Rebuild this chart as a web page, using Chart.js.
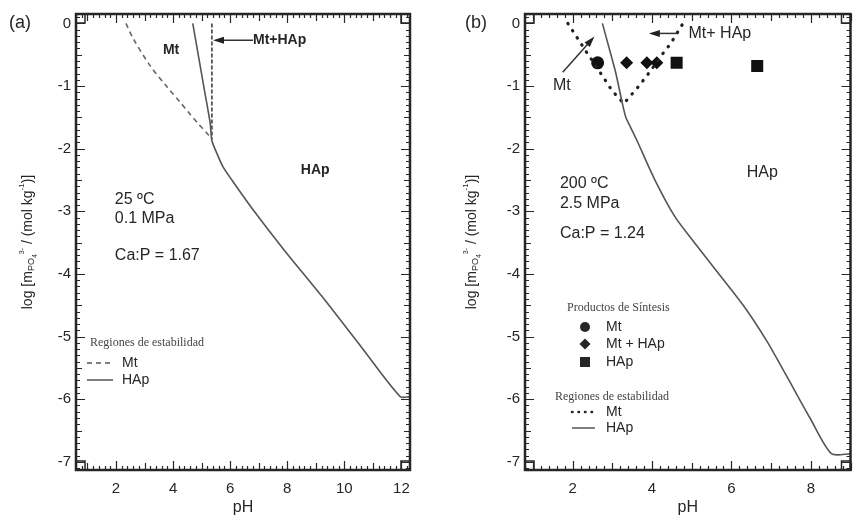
<!DOCTYPE html>
<html>
<head>
<meta charset="utf-8">
<script src="https://cdn.jsdelivr.net/npm/chart.js@4.4.1/dist/chart.umd.min.js"></script>
<style>
  body { margin: 0; background: #fff; }
  #wrap { position: relative; width: 859px; height: 519px; }
  canvas { position: absolute; top: 0; }
</style>
</head>
<body>
<div id="wrap">
  <canvas id="chartA" width="430" height="519" style="left:0"></canvas>
  <canvas id="chartB" width="429" height="519" style="left:430px"></canvas>
</div>
<script>
// ---- panel (a): 25 ºC, 0.1 MPa, Ca:P = 1.67 ----
const phHApA  = [4.69, 5.10, 5.30, 5.36, 5.53, 5.76, 6.06, 6.81, 7.86, 9.2, 10.6, 11.96, 12.3];
const logHApA = [0, -1.07, -1.59, -1.87, -2.07, -2.30, -2.50, -2.98, -3.60, -4.35, -5.17, -5.96, -5.96];
const phMtA   = [2.35, 2.6, 3.19, 3.8, 4.25, 4.54, 4.88, 5.18, 5.32];
const logMtA  = [0, -0.24, -0.67, -1.02, -1.26, -1.42, -1.6, -1.75, -1.82];
const phMtEdgeA  = [5.36, 5.36];
const logMtEdgeA = [0, -1.85];

// ---- panel (b): 200 ºC, 2.5 MPa, Ca:P = 1.24 ----
const phHApB  = [2.75, 2.9, 3.09, 3.25, 3.34, 3.46, 3.62, 4.08, 4.58, 5.08, 5.66, 6.32, 6.9, 7.4, 7.98, 8.52, 9.0];
const logHApB = [0, -0.35, -0.8, -1.27, -1.5, -1.66, -1.87, -2.51, -3.09, -3.51, -3.98, -4.52, -5.08, -5.64, -6.3, -6.87, -6.87];
const phMtB   = [1.88, 2.34, 2.67, 3.0, 3.29, 3.67, 3.96, 4.25, 4.46, 4.78];
const logMtB  = [0, -0.45, -0.76, -1.08, -1.28, -1.0, -0.76, -0.5, -0.33, 0];
// productos de síntesis
const phSynMt   = [2.63];
const logSynMt  = [-0.63];
const phSynMix  = [3.36, 3.87, 4.12];
const logSynMix = [-0.63, -0.63, -0.63];
const phSynHAp  = [4.62, 6.65];
const logSynHAp = [-0.63, -0.68];

// tick labels
const yTickVals = [0, -1, -2, -3, -4, -5, -6, -7];
const xTicksA = [2, 4, 6, 8, 10, 12];
const xTicksB = [2, 4, 6, 8];

const FONT = 'Liberation Sans, Arial, sans-serif';
const SERIF = 'Liberation Serif, Times New Roman, serif';
const INK = '#262626';
const LINE = '#555';

const pts = (xs, ys) => xs.map((v, i) => ({ x: v, y: ys[i] }));

function arrow(ctx, x0, y0, x1, y1) {
  const a = Math.atan2(y1 - y0, x1 - x0), c = Math.cos(a), s = Math.sin(a);
  ctx.beginPath();
  ctx.moveTo(x0, y0);
  ctx.lineTo(x1 - 6 * c, y1 - 6 * s);
  ctx.stroke();
  ctx.beginPath();
  ctx.moveTo(x1, y1);
  ctx.lineTo(x1 - 11 * c + 3.5 * s, y1 - 11 * s - 3.5 * c);
  ctx.lineTo(x1 - 11 * c - 3.5 * s, y1 - 11 * s + 3.5 * c);
  ctx.closePath();
  ctx.fill();
}

function yTitle(ctx, cx, cy) {
  const parts = [
    { t: 'log [m', f: 14, dy: 0 },
    { t: 'PO', f: 9, dy: 4 },
    { t: '4', f: 7, dy: 7 },
    { t: '3-', f: 7, dy: -6 },
    { t: ' / (mol kg', f: 14, dy: 0 },
    { t: '-1', f: 8, dy: -6 },
    { t: ')]', f: 14, dy: 0 }
  ];
  let w = 0;
  parts.forEach(p => { ctx.font = p.f + 'px ' + FONT; p.w = ctx.measureText(p.t).width; w += p.w; });
  ctx.save();
  ctx.translate(cx, cy);
  ctx.rotate(-Math.PI / 2);
  ctx.fillStyle = INK;
  ctx.textBaseline = 'middle';
  ctx.textAlign = 'left';
  let x = -w / 2;
  parts.forEach(p => { ctx.font = p.f + 'px ' + FONT; ctx.fillText(p.t, x, p.dy); x += p.w; });
  ctx.restore();
}

function marker(ctx, kind, x, y, r) {
  ctx.beginPath();
  if (kind === 'circle') ctx.arc(x, y, r, 0, Math.PI * 2);
  else if (kind === 'diamond') { ctx.moveTo(x, y - r); ctx.lineTo(x + r, y); ctx.lineTo(x, y + r); ctx.lineTo(x - r, y); ctx.closePath(); }
  else ctx.rect(x - r, y - r, 2 * r, 2 * r);
  ctx.fill();
}

// frame, inward ticks on all sides, in-plot labels, arrows, legend
function makeDecor(cfg) {
  return {
    id: 'decor',
    afterDatasetsDraw(chart) {
      const { ctx, chartArea: a, scales: { x, y } } = chart;
      ctx.save();
      ctx.strokeStyle = INK;
      ctx.lineWidth = 1.2;
      // x ticks: minor 0.2, mid 1, major 2
      for (let k = Math.ceil(x.min / 0.2 - 1e-6); k * 0.2 <= x.max + 1e-6; k++) {
        const px = Math.round(x.getPixelForValue(k * 0.2)) + 0.5;
        const len = k % 10 === 0 ? 9 : (k % 5 === 0 ? 7 : 4);
        ctx.beginPath();
        ctx.moveTo(px, a.bottom); ctx.lineTo(px, a.bottom - len);
        ctx.moveTo(px, a.top); ctx.lineTo(px, a.top + len);
        ctx.stroke();
      }
      // y ticks: minor 0.1, mid 0.5, major 1
      for (let k = Math.ceil(y.min / 0.1 - 1e-6); k * 0.1 <= y.max + 1e-6; k++) {
        const py = Math.round(y.getPixelForValue(k * 0.1)) + 0.5;
        const len = k % 10 === 0 ? 9 : (k % 5 === 0 ? 6 : 4);
        ctx.beginPath();
        ctx.moveTo(a.left, py); ctx.lineTo(a.left + len, py);
        ctx.moveTo(a.right, py); ctx.lineTo(a.right - len, py);
        ctx.stroke();
      }
      // corner boxes
      ctx.lineWidth = 1.5;
      const b = 9;
      ctx.strokeRect(a.left, a.top, b, b);
      ctx.strokeRect(a.right - b, a.top, b, b);
      ctx.strokeRect(a.left, a.bottom - b, b, b);
      ctx.strokeRect(a.right - b, a.bottom - b, b, b);
      // frame
      ctx.lineWidth = 2.5;
      ctx.strokeRect(a.left, a.top, a.right - a.left, a.bottom - a.top);

      // arrows
      ctx.strokeStyle = '#333';
      ctx.fillStyle = '#222';
      ctx.lineWidth = 1.5;
      cfg.arrows.forEach(r => arrow(ctx,
        x.getPixelForValue(r.from[0]), y.getPixelForValue(r.from[1]),
        x.getPixelForValue(r.to[0]), y.getPixelForValue(r.to[1])));

      // texts inside the plot
      ctx.fillStyle = INK;
      ctx.textBaseline = 'middle';
      cfg.texts.forEach(t => {
        ctx.font = (t.bold ? 'bold ' : '') + t.size + 'px ' + FONT;
        ctx.textAlign = t.align || 'left';
        ctx.fillText(t.text, x.getPixelForValue(t.x), y.getPixelForValue(t.y));
      });

      // legend
      const L = cfg.legend;
      ctx.textAlign = 'left';
      L.heads.forEach(h => {
        ctx.font = '12px ' + SERIF;
        ctx.fillStyle = '#444';
        ctx.fillText(h.text, h.x, h.y);
      });
      ctx.fillStyle = INK;
      L.marks.forEach(m => {
        marker(ctx, m.kind, m.x, m.y, m.r);
        ctx.font = '14px ' + FONT;
        ctx.fillText(m.text, L.textX, m.y);
      });
      L.lines.forEach(l => {
        ctx.save();
        ctx.strokeStyle = l.color;
        ctx.lineWidth = l.width;
        ctx.lineCap = l.cap || 'butt';
        ctx.setLineDash(l.dash);
        ctx.beginPath(); ctx.moveTo(l.x0, l.y); ctx.lineTo(l.x1, l.y); ctx.stroke();
        ctx.restore();
        ctx.font = '14px ' + FONT;
        ctx.fillText(l.text, L.textX, l.y);
      });

      // panel label + y title
      ctx.font = '18px ' + FONT;
      ctx.fillText(cfg.panel.text, cfg.panel.x, cfg.panel.y);
      yTitle(ctx, cfg.yTitle.x, cfg.yTitle.y);
      ctx.restore();
    }
  };
}

function scales(xmin, xmax, xticks, yWidth) {
  return {
    x: {
      type: 'linear', min: xmin, max: xmax,
      afterBuildTicks: s => { s.ticks = xticks.map(v => ({ value: v })); },
      afterFit: s => { s.height = 49; },
      grid: { display: false, drawTicks: false, tickLength: 0 }, border: { display: false },
      ticks: { padding: 10, color: INK, font: { family: FONT, size: 15 } },
      title: { display: true, text: 'pH', color: INK, font: { family: FONT, size: 16 }, padding: { top: 0, bottom: 2 } }
    },
    y: {
      type: 'linear', min: -7.13, max: 0.15,
      afterBuildTicks: s => { s.ticks = yTickVals.map(v => ({ value: v })); },
      afterFit: s => { s.width = yWidth; },
      grid: { display: false, drawTicks: false, tickLength: 0 }, border: { display: false },
      ticks: { padding: 5, color: INK, font: { family: FONT, size: 15 } }
    }
  };
}

const common = {
  responsive: false,
  animation: false,
  plugins: { legend: { display: false }, tooltip: { enabled: false } }
};

new Chart(document.getElementById('chartA'), {
  type: 'scatter',
  data: {
    datasets: [
      { data: pts(phHApA, logHApA), showLine: true, pointRadius: 0, borderColor: LINE, borderWidth: 1.6, tension: 0.25 },
      { data: pts(phMtA, logMtA), showLine: true, pointRadius: 0, borderColor: '#666', borderWidth: 1.6, borderDash: [5, 4], tension: 0.3 },
      { data: pts(phMtEdgeA, logMtEdgeA), showLine: true, pointRadius: 0, borderColor: '#555', borderWidth: 1.8, borderDash: [4, 2] }
    ]
  },
  options: Object.assign({}, common, {
    layout: { padding: { top: 13, right: 20, left: 0, bottom: 0 } },
    scales: scales(0.6, 12.3, xTicksA, 76)
  }),
  plugins: [makeDecor({
    arrows: [{ from: [6.8, -0.27], to: [5.4, -0.27] }],
    texts: [
      { text: 'Mt', x: 3.93, y: -0.43, size: 14, bold: true, align: 'center' },
      { text: 'Mt+HAp', x: 6.8, y: -0.27, size: 14, bold: true },
      { text: 'HAp', x: 8.98, y: -2.34, size: 14, bold: true, align: 'center' },
      { text: '25 ºC', x: 1.96, y: -2.82, size: 16 },
      { text: '0.1 MPa', x: 1.96, y: -3.11, size: 16 },
      { text: 'Ca:P = 1.67', x: 1.96, y: -3.70, size: 16 }
    ],
    legend: {
      textX: 122,
      heads: [{ text: 'Regiones de estabilidad', x: 90, y: 343 }],
      marks: [],
      lines: [
        { text: 'Mt', x0: 87, x1: 113, y: 363, color: '#555', width: 1.5, dash: [5, 4] },
        { text: 'HAp', x0: 87, x1: 113, y: 380, color: '#555', width: 1.5, dash: [] }
      ]
    },
    panel: { text: '(a)', x: 9, y: 23 },
    yTitle: { x: 28, y: 242 }
  })]
});

new Chart(document.getElementById('chartB'), {
  type: 'scatter',
  data: {
    datasets: [
      { data: pts(phHApB, logHApB), showLine: true, pointRadius: 0, borderColor: LINE, borderWidth: 1.6, tension: 0.25 },
      { data: pts(phMtB, logMtB), showLine: true, pointRadius: 0, borderColor: '#222', borderWidth: 3.2, borderDash: [0.5, 8], borderCapStyle: 'round' },
      { data: pts(phSynMt, logSynMt), pointStyle: 'circle', pointRadius: 6.5, backgroundColor: '#111', borderColor: '#111', borderWidth: 0 },
      { data: pts(phSynMix, logSynMix), pointStyle: 'rectRot', pointRadius: 6.5, backgroundColor: '#111', borderColor: '#111', borderWidth: 0 },
      { data: pts(phSynHAp, logSynHAp), pointStyle: 'rect', pointRadius: 8.5, backgroundColor: '#111', borderColor: '#111', borderWidth: 0 }
    ]
  },
  options: Object.assign({}, common, {
    layout: { padding: { top: 13, right: 4, left: 0, bottom: 0 } },
    scales: scales(0.8, 9.0, xTicksB, 95)
  }),
  plugins: [makeDecor({
    arrows: [
      { from: [1.75, -0.78], to: [2.55, -0.21] },
      { from: [4.62, -0.16], to: [3.92, -0.16] }
    ],
    texts: [
      { text: 'Mt', x: 1.73, y: -1.0, size: 16, align: 'center' },
      { text: 'Mt+ HAp', x: 4.92, y: -0.16, size: 16 },
      { text: 'HAp', x: 6.78, y: -2.38, size: 16, align: 'center' },
      { text: '200 ºC', x: 1.68, y: -2.56, size: 16 },
      { text: '2.5 MPa', x: 1.68, y: -2.87, size: 16 },
      { text: 'Ca:P = 1.24', x: 1.68, y: -3.35, size: 16 }
    ],
    legend: {
      textX: 176,
      heads: [
        { text: 'Productos de Síntesis', x: 137, y: 308 },
        { text: 'Regiones de estabilidad', x: 125, y: 397 }
      ],
      marks: [
        { kind: 'circle', text: 'Mt', x: 155, y: 327, r: 5 },
        { kind: 'diamond', text: 'Mt + HAp', x: 155, y: 344, r: 5.5 },
        { kind: 'square', text: 'HAp', x: 155, y: 362, r: 5 }
      ],
      lines: [
        { text: 'Mt', x0: 142, x1: 165, y: 412, color: '#222', width: 2.5, dash: [0.5, 6], cap: 'round' },
        { text: 'HAp', x0: 142, x1: 165, y: 428, color: '#555', width: 1.5, dash: [] }
      ]
    },
    panel: { text: '(b)', x: 35, y: 23 },
    yTitle: { x: 42, y: 242 }
  })]
});
</script>
</body>
</html>
